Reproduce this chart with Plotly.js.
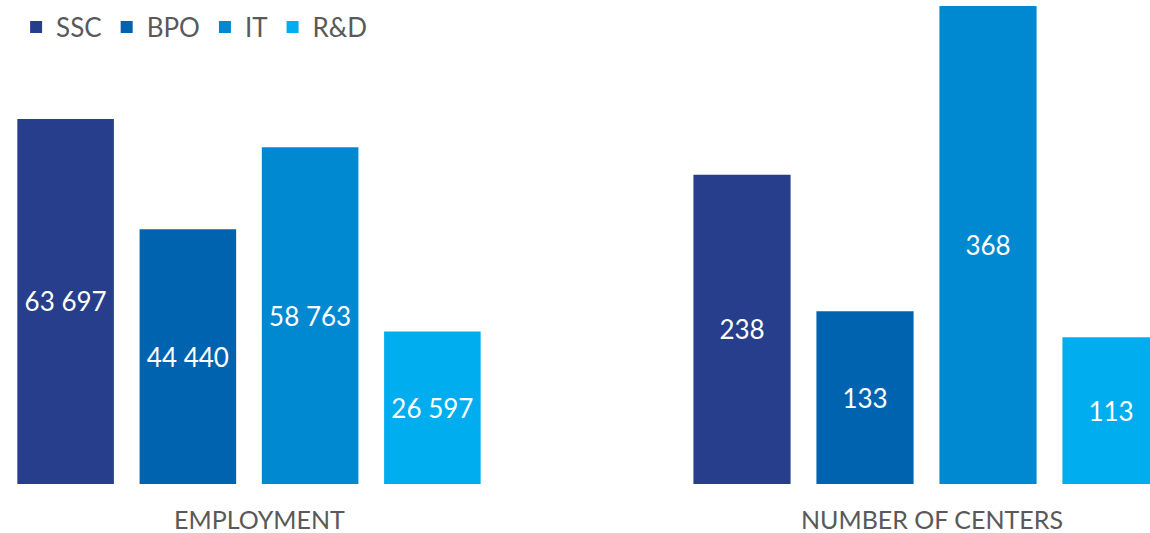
<!DOCTYPE html>
<html>
<head>
<meta charset="utf-8">
<script src="https://cdn.plot.ly/plotly-3.0.1.min.js"></script>
<style>
html,body{margin:0;padding:0;background:#fff;}
#chart{width:1150px;height:533px;}
</style>
</head>
<body>
<div id="chart"></div>
<script>
const categories = ['SSC', 'BPO', 'IT', 'R&D'];
const employment = [63697, 44440, 58763, 26597];
const centers = [238, 133, 368, 113];
const groupTitles = ['EMPLOYMENT', 'NUMBER OF CENTERS'];
const colors = ['#263e8b', '#0063b0', '#0089d0', '#00adee'];

const W = 1150, H = 533;
const FONT = 'Lato, "Open Sans", sans-serif';

const traces = [];
categories.forEach((c, i) => {
  traces.push({
    type: 'bar', x: [c], y: [employment[i]], name: c,
    marker: {color: colors[i]}, legendgroup: c, showlegend: true,
    xaxis: 'x', yaxis: 'y',
    texttemplate: '%{y:,}', textposition: 'inside', insidetextanchor: 'middle',
    textfont: {family: FONT, size: 26, color: '#ffffff'},
    constraintext: 'none', hoverinfo: 'skip'
  });
  traces.push({
    type: 'bar', x: [c], y: [centers[i]], name: c,
    marker: {color: colors[i]}, legendgroup: c, showlegend: false,
    xaxis: 'x2', yaxis: 'y2',
    texttemplate: '%{y}', textposition: 'inside', insidetextanchor: 'middle',
    textfont: {family: FONT, size: 26, color: '#ffffff'},
    constraintext: 'none', hoverinfo: 'skip'
  });
});

const hidden = {showgrid: false, zeroline: false, showticklabels: false, showline: false, ticks: ''};
const plotH = 478;
const layout = {
  width: W, height: H,
  margin: {l: 0, r: 0, t: 6, b: 49},
  paper_bgcolor: '#ffffff', plot_bgcolor: '#ffffff',
  barmode: 'overlay', bargap: 0.21,
  separators: '. ',
  font: {family: FONT, color: '#595959'},
  showlegend: true,
  legend: {orientation: 'h', x: 0.014, xanchor: 'left', y: 1.005, yanchor: 'top',
           font: {family: FONT, size: 26, color: '#595959'}, bgcolor: 'rgba(0,0,0,0)',
           itemwidth: 30, traceorder: 'normal'},
  xaxis: Object.assign({domain: [4.5 / W, 493.5 / W], type: 'category', range: [-0.5, 3.5], categoryorder: 'array', categoryarray: categories}, hidden),
  yaxis: Object.assign({range: [0, 83400], domain: [0, 1]}, hidden),
  xaxis2: Object.assign({domain: [680.5 / W, 1], type: 'category', range: [-0.5, 3.317], anchor: 'y2', categoryorder: 'array', categoryarray: categories}, hidden),
  yaxis2: Object.assign({range: [0, 368], domain: [0, 1], anchor: 'x2'}, hidden),
  annotations: [
    {text: groupTitles[0], xref: 'paper', yref: 'paper', x: 259.5 / W, y: -35 / plotH, xanchor: 'center', yanchor: 'middle', showarrow: false, font: {family: FONT, size: 25, color: '#595959'}},
    {text: groupTitles[1], xref: 'paper', yref: 'paper', x: 932 / W, y: -35 / plotH, xanchor: 'center', yanchor: 'middle', showarrow: false, font: {family: FONT, size: 25, color: '#595959'}}
  ]
};

Plotly.newPlot('chart', traces, layout, {displayModeBar: false, staticPlot: true});
</script>
</body>
</html>
